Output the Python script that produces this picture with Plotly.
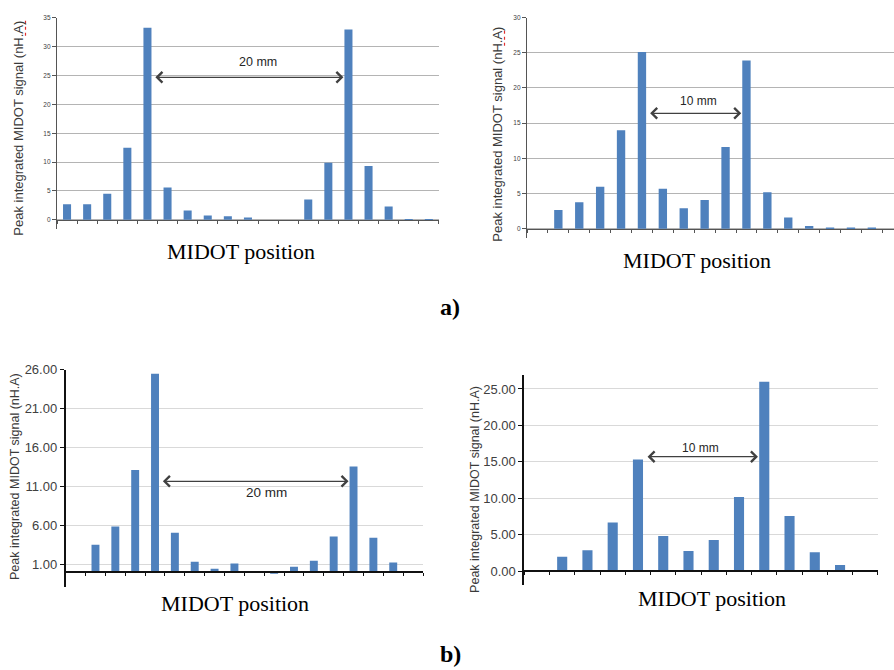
import numpy as np
import plotly.graph_objects as go

# ---------------- data ----------------
# a) left: 20 mm separation, 19 MIDOT positions
a_left_vals = [2.7, 2.7, 4.5, 12.5, 33.3, 5.6, 1.6, 0.75, 0.6, 0.4, 0.0, 0.0,
               3.5, 9.9, 33.0, 9.3, 2.3, -0.15, -0.15]
# a) right: 10 mm separation
a_right_vals = [None, 2.67, 3.75, 5.95, 14.0, 25.1, 5.67, 2.9, 4.08, 11.6, 23.9,
                5.16, 1.6, 0.37, 0.06, 0.06, 0.04]
# b) left: 20 mm separation
b_left_vals = [None, 3.5, 5.84, 13.1, 25.5, 5.03, 1.3, 0.4, 1.09, 0.0, -0.2, 0.66,
               1.42, 4.57, 13.57, 4.4, 1.2, None]
# b) right: 10 mm separation
b_right_vals = [None, 1.95, 2.85, 6.66, 15.3, 4.8, 2.76, 4.26, 10.15, 26.0, 7.56,
                2.58, 0.82, None]

a_ticks = [0, 5, 10, 15, 20, 25, 30, 35]
a_right_ticks = [0, 5, 10, 15, 20, 25, 30]
b_left_ticks = [1, 6, 11, 16, 21, 26]
b_right_ticks = [0, 5, 10, 15, 20, 25]

a_left_ticklabels = [str(v) for v in a_ticks]
a_right_ticklabels = [str(v) for v in a_right_ticks]
b_left_ticklabels = ["%.2f" % v for v in b_left_ticks]
b_right_ticklabels = ["%.2f" % v for v in b_right_ticks]

separation_labels = ["20 mm", "10 mm", "20 mm", "10 mm"]
x_title = "MIDOT position"
y_title = "Peak integrated MIDOT signal (nH.A)"

# ---------------- layout helpers ----------------
W, H = 894, 670
def fx(p):
    return p / W
def fy(p):
    return 1 - p / H

BAR = "#4f81bd"
SANS = "Liberation Sans, Arial, sans-serif"
SERIF = "Liberation Serif, Times New Roman, serif"

panels = [
    dict(vals=a_left_vals, ticks=a_ticks, ticktext=a_left_ticklabels,
         x0=57, catw=20.1, x1=None,
         ref=((35, 11.0), (0, 215.0)), top=11.0, bot=224.0,
         tickfont=6.5, grid="#b4b4b4", line="#555555", lw=1.3,
         arrow_y=24.7, label_x=9.5, label_y=27.4, label_size=12.5,
         xt=(241, 247), yt=(19, 123), ytsize=13),
    dict(vals=a_right_vals, ticks=a_right_ticks, ticktext=a_right_ticklabels,
         x0=527, catw=20.9, x1=894,
         ref=((30, 10.7), (0, 224.0)), top=10.7, bot=233.0,
         tickfont=6.5, grid="#b4b4b4", line="#555555", lw=1.3,
         arrow_y=16.4, label_x=7.7, label_y=18.2, label_size=12,
         xt=(697, 256), yt=(498, 129), ytsize=13),
    dict(vals=b_left_vals, ticks=b_left_ticks, ticktext=b_left_ticklabels,
         x0=65.7, catw=19.85, x1=None,
         ref=((26, 366.7), (1, 563.0)), top=366.7, bot=586.0,
         tickfont=13, grid="#d9d9d9", line="#111111", lw=1.8,
         arrow_y=11.66, label_x=9.6, label_y=10.2, label_size=13.5,
         xt=(235, 603), yt=(15, 475), ytsize=12.5),
    dict(vals=b_right_vals, ticks=b_right_ticks, ticktext=b_right_ticklabels,
         x0=524.3, catw=25.26, x1=None,
         ref=((25, 386.0), (0, 570.0)), top=372.0, bot=584.0,
         tickfont=13, grid="#d9d9d9", line="#111111", lw=1.8,
         arrow_y=15.7, label_x=6.46, label_y=16.85, label_size=12,
         xt=(712, 598), yt=(475, 488), ytsize=12.5),
]

fig = go.Figure()
annotations = []
shapes = []
layout = dict(width=W, height=H, margin=dict(l=0, r=0, t=0, b=0),
              paper_bgcolor="white", plot_bgcolor="white", showlegend=False,
              bargap=0.6)

for i, p in enumerate(panels, start=1):
    n = len(p["vals"])
    xs = np.arange(n)
    sfx = "" if i == 1 else str(i)
    fig.add_trace(go.Bar(x=xs, y=p["vals"], marker=dict(color=BAR, line=dict(width=0)),
                         width=0.4, xaxis="x" + sfx, yaxis="y" + sfx,
                         hoverinfo="skip"))
    # y range from two reference values
    (va, pa), (vb, pb) = p["ref"]
    scale = (pb - pa) / (va - vb)  # px per unit
    zero_px = pb + vb * scale
    ymax = va + (pa - p["top"]) / scale
    ymin = -(p["bot"] - zero_px) / scale
    # x range
    if p["x1"] is None:
        xr = [-0.5, n - 0.5]
        x1 = p["x0"] + n * p["catw"]
    else:
        x1 = p["x1"]
        xr = [-0.5, -0.5 + (x1 - p["x0"]) / p["catw"]]
    layout["xaxis" + sfx] = dict(
        domain=[fx(p["x0"]), min(1.0, fx(x1))], range=xr, anchor="free",
        position=fy(zero_px), showgrid=False, zeroline=False,
        showline=True, linecolor=p["line"], linewidth=p["lw"],
        ticks="outside", ticklen=3, tickwidth=1, tickcolor=p["line"],
        tickvals=list(np.arange(-0.5, n, 1.0)), showticklabels=False,
        fixedrange=True)
    layout["yaxis" + sfx] = dict(
        domain=[fy(p["bot"]), fy(p["top"])], range=[ymin, ymax],
        anchor="x" + sfx, showgrid=True, gridcolor=p["grid"], gridwidth=1,
        zeroline=False, showline=True, linecolor=p["line"], linewidth=p["lw"],
        ticks="outside", ticklen=4, tickwidth=1, tickcolor=p["line"],
        tickvals=p["ticks"], ticktext=p["ticktext"],
        tickfont=dict(family=SANS, size=p["tickfont"], color="#404040"),
        fixedrange=True)

    # double-headed arrow between the two peak bars
    v = np.array([np.nan if q is None else q for q in p["vals"]], dtype=float)
    order = np.argsort(np.nan_to_num(v, nan=-1e9))[::-1]
    pk1, pk2 = sorted(order[:2])
    xa = pk1 + 0.2 + 0.12
    xb = pk2 - 0.2 - 0.05
    annotations.append(dict(
        x=xb, y=p["arrow_y"], ax=xa, ay=p["arrow_y"],
        xref="x" + sfx, yref="y" + sfx, axref="x" + sfx, ayref="y" + sfx,
        text="", showarrow=True, arrowside="end+start", arrowhead=4,
        startarrowhead=4, arrowsize=1.6, startarrowsize=1.6, arrowwidth=1.3,
        arrowcolor="#404040", standoff=0, startstandoff=0))
    annotations.append(dict(
        x=p["label_x"], y=p["label_y"], xref="x" + sfx, yref="y" + sfx,
        xanchor="center", yanchor="middle",
        text=separation_labels[i - 1], showarrow=False,
        font=dict(family=SANS, size=p["label_size"], color="#262626")))
    # axis titles
    annotations.append(dict(
        x=fx(p["xt"][0]), y=fy(p["xt"][1]), xref="paper", yref="paper",
        xanchor="center", yanchor="middle",
        text=x_title, showarrow=False,
        font=dict(family=SERIF, size=22, color="#000000")))
    annotations.append(dict(
        x=fx(p["yt"][0]), y=fy(p["yt"][1]), xref="paper", yref="paper",
        xanchor="center", yanchor="middle",
        text=y_title, textangle=-90, showarrow=False,
        font=dict(family=SANS, size=p["ytsize"], color="#3a3a3a")))

# red spell-check squiggles under "nH.A" on the top two titles
for (sx, sy0, sy1) in [(25.5, 14, 32), (504.5, 24, 40)]:
    shapes.append(dict(type="line", xref="paper", yref="paper",
                       x0=fx(sx), x1=fx(sx), y0=fy(sy0), y1=fy(sy1),
                       line=dict(color="#e03030", width=1.2, dash="dot")))

# panel labels
annotations.append(dict(x=fx(450), y=fy(303), xref="paper", yref="paper",
                        xanchor="center", yanchor="middle",
                        text="<b>a)</b>", showarrow=False,
                        font=dict(family=SERIF, size=24, color="#000000")))
annotations.append(dict(x=fx(450), y=fy(654), xref="paper", yref="paper",
                        xanchor="center", yanchor="middle",
                        text="<b>b)</b>", showarrow=False,
                        font=dict(family=SERIF, size=24, color="#000000")))

layout["annotations"] = annotations
layout["shapes"] = shapes
fig.update_layout(**layout)
fig.write_html("out.html")
